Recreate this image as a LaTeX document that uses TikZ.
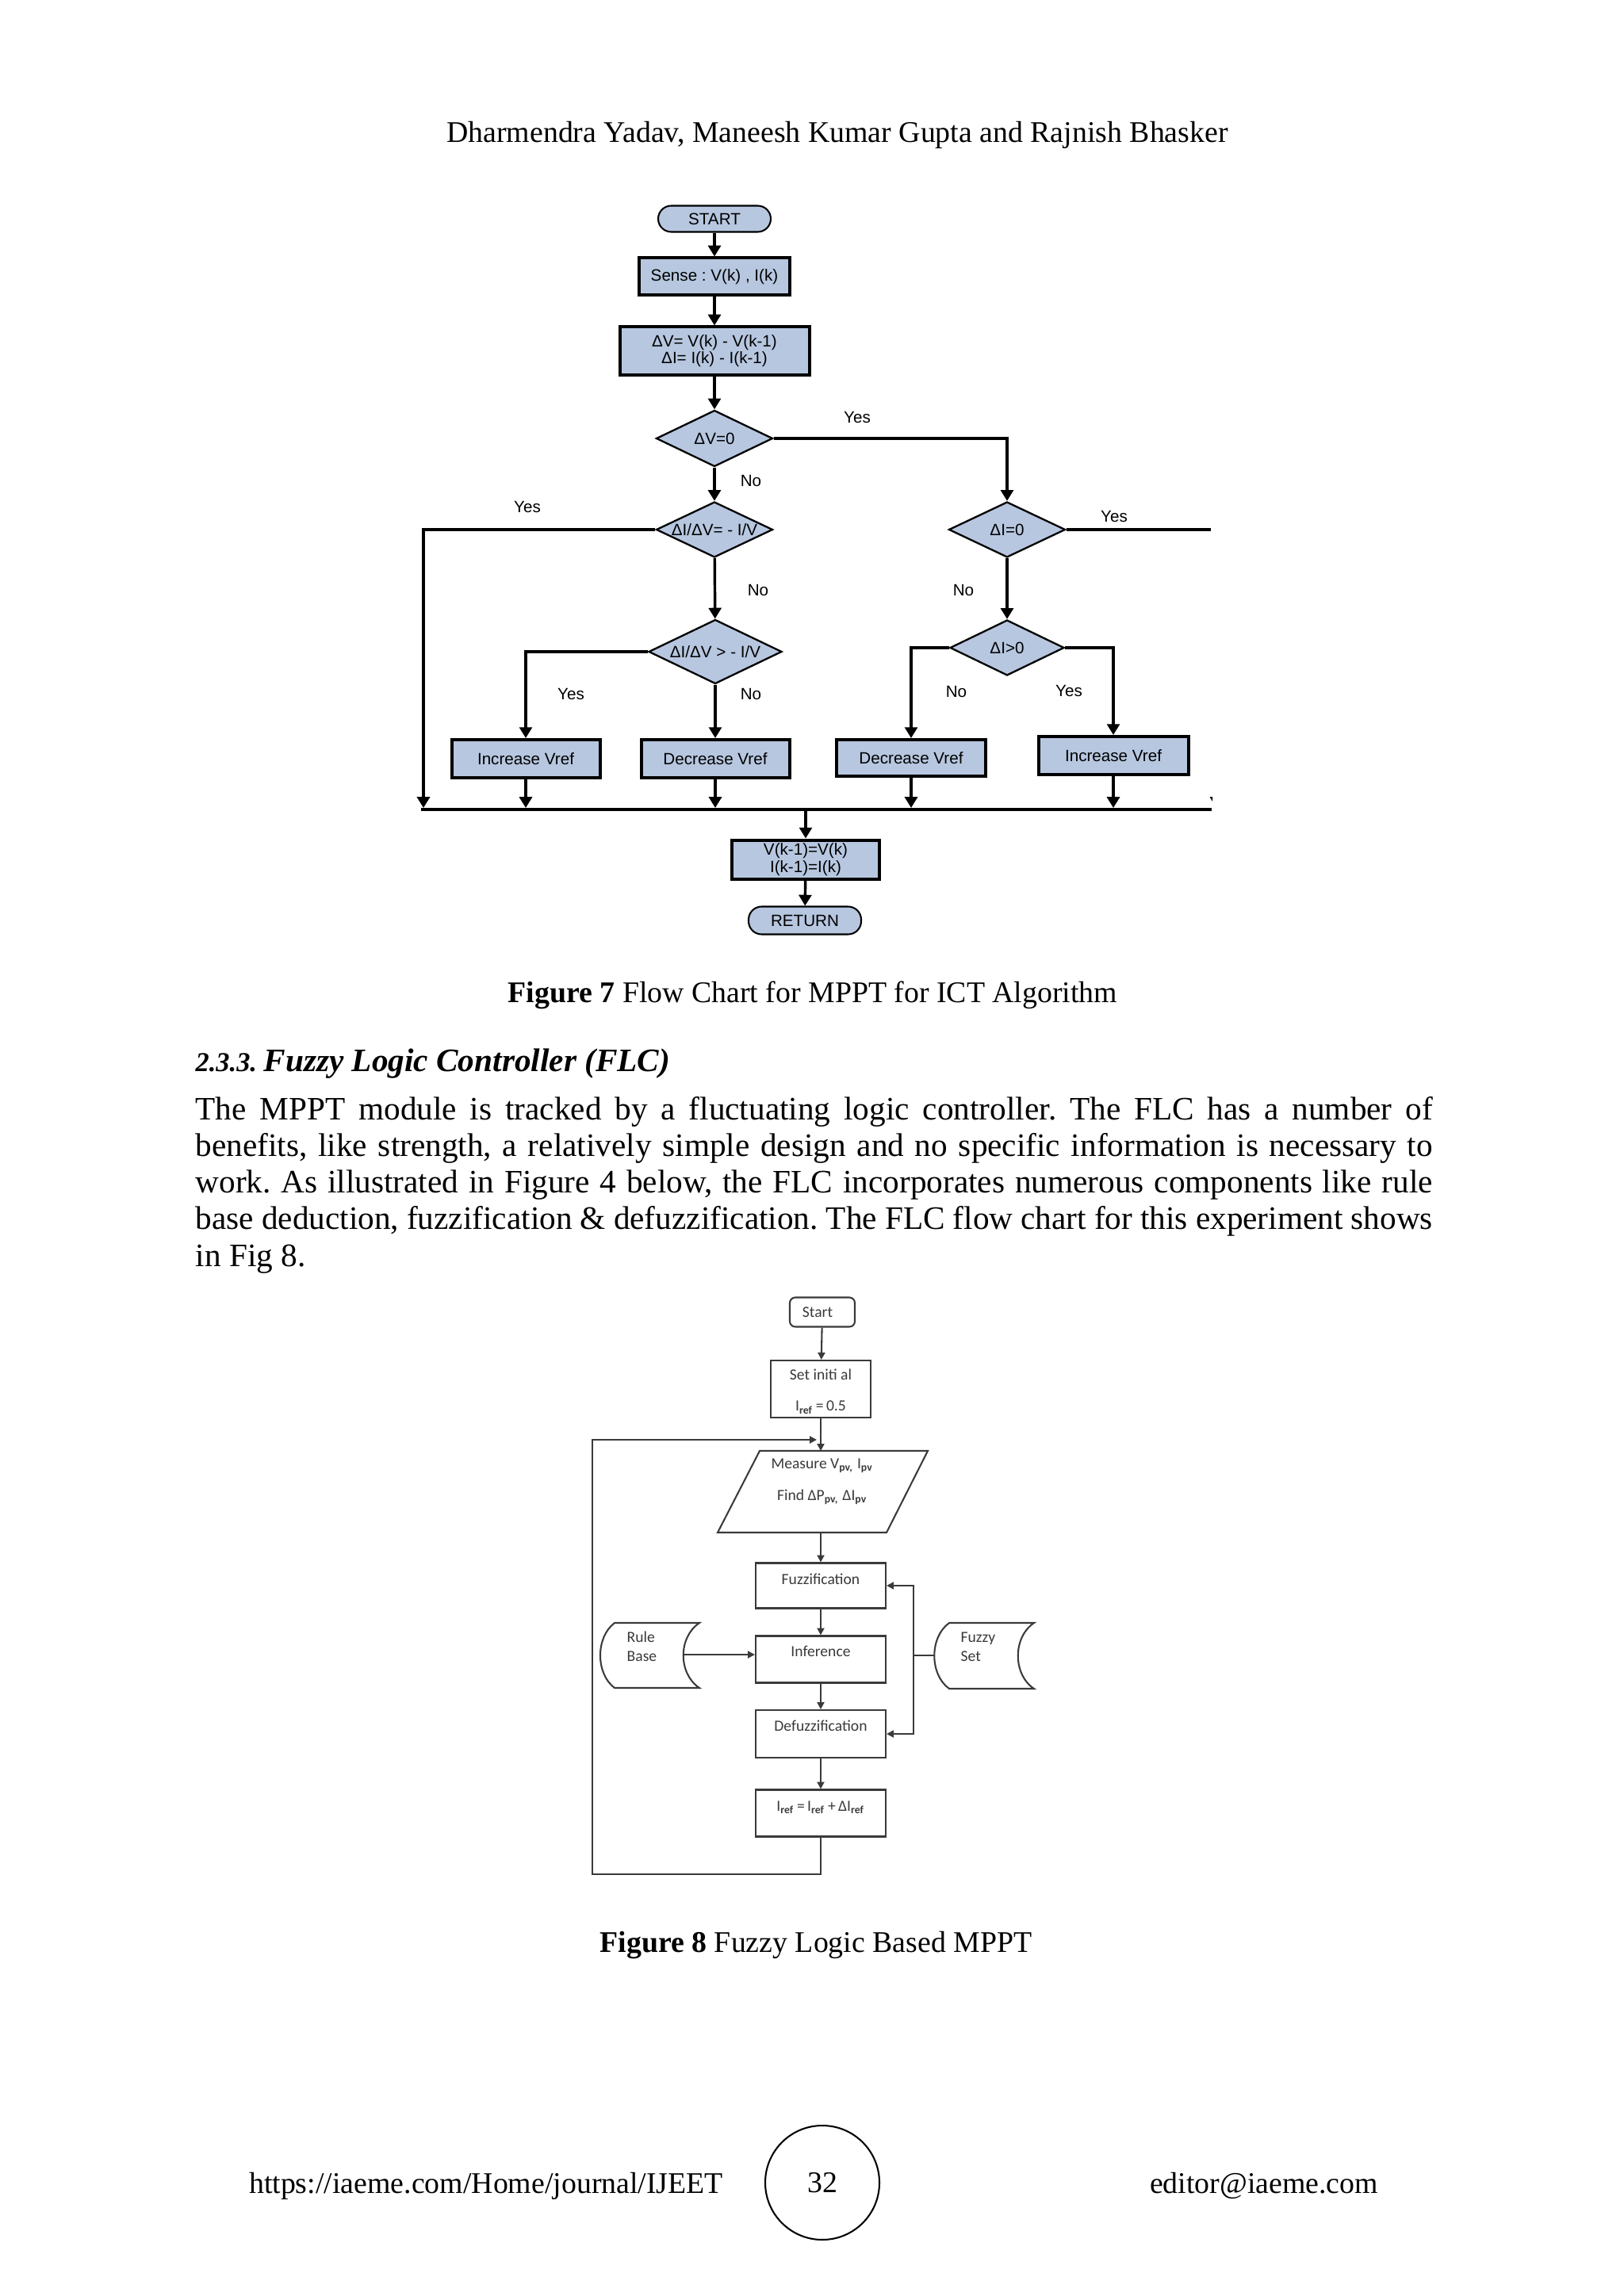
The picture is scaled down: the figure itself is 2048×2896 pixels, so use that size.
\documentclass[tikz,border=0pt]{standalone}
\usepackage{fontspec}
\setmainfont{Liberation Serif}
\newfontfamily\arialf{Liberation Sans}
\newfontfamily\calf{Carlito}
\usetikzlibrary{arrows.meta,shapes.geometric}
\definecolor{boxblue}{RGB}{183,199,224}
\definecolor{fgray}{RGB}{58,58,58}
\def\pxu{0.29076pt}
\frenchspacing
\begin{document}
\begin{tikzpicture}[x=0.29076pt,y=-0.29076pt,
  ptxt/.style={font=\fontsize{11}{13}\selectfont, inner sep=0},
  ftxt/.style={font=\arialf\fontsize{6}{6.2}\selectfont, inner sep=0, align=center},
  pill/.style={draw, line width=0.6pt, fill=boxblue, rounded corners=4.8pt, ftxt},
  pbox/.style={draw, line width=1.16pt, fill=boxblue, ftxt},
  dia/.style={draw, diamond, line width=0.67pt, fill=boxblue, inner sep=0},
  lab/.style={font=\arialf\fontsize{6}{7}\selectfont, inner sep=0},
  conn/.style={line width=1.0pt, -{Triangle[width=4.6pt,length=4pt]}},
  plain/.style={line width=1.0pt},
  fbox/.style={draw=fgray, line width=0.6pt, minimum width=164*\pxu, inner sep=0},
  ftext/.style={font=\calf\fontsize{5.7}{7}\selectfont, text=fgray, inner sep=0},
  fline/.style={draw=fgray, line width=0.6pt},
  fconn/.style={draw=fgray, line width=0.6pt, -{Triangle[width=2.6pt,length=2.6pt]}, fgray}
]
\useasboundingbox[fill=white] (0,0) rectangle (2048,2896);

% ---------------- page text ----------------
\node[ptxt, anchor=base] (hdr) at (1056,180) {Dharmendra Yadav, Maneesh Kumar Gupta and Rajnish Bhasker};
\node[ptxt, anchor=base] (cap7) at (1025,1264) {\textbf{Figure 7} Flow Chart for MPPT for ICT Algorithm};
\node[anchor=base west, inner sep=0] (sec) at (246,1351)
  {\bfseries\itshape\fontsize{10}{12}\selectfont 2.3.3. \fontsize{12}{14}\selectfont Fuzzy Logic Controller (FLC)};
\node[anchor=base west, inner sep=0, font=\fontsize{12}{13.45}\selectfont] (para) at (246,1412)
  {\parbox[t]{453.6pt}{\baselineskip=13.45pt
   \hbox to\hsize{The MPPT module is tracked by a fluctuating logic controller. The FLC has a number of}
   \hbox to\hsize{benefits, like strength, a relatively simple design and no specific information is necessary to}
   \hbox to\hsize{work. As illustrated in Figure 4 below, the FLC incorporates numerous components like rule}
   \hbox to\hsize{base deduction, fuzzification \& defuzzification. The FLC flow chart for this experiment shows}
   \hbox{in Fig 8.}}};
\node[ptxt, anchor=base] (cap8) at (1029,2462) {\textbf{Figure 8} Fuzzy Logic Based MPPT};
\node[ptxt, anchor=base] (url) at (613,2766) {https://iaeme.com/Home/journal/IJEET};
\node[draw, circle, line width=0.6pt, minimum size=144*\pxu, inner sep=0, font=\fontsize{11}{13}\selectfont] (pg) at (1037,2753) {32};
\node[ptxt, anchor=base] (mail) at (1594,2766) {editor@iaeme.com};

% ---------------- Figure 7 ----------------
\node[pill, minimum width=142*\pxu, minimum height=33*\pxu] (start) at (901,276) {START};
\node[pbox, minimum width=190*\pxu, minimum height=47*\pxu] (sense) at (901,349) {Sense : V(k) , I(k)};
\node[pbox, minimum width=239*\pxu, minimum height=61*\pxu] (dv) at (901,443) {ΔV= V(k) - V(k-1)\\ΔI= I(k) - I(k-1)};
\node[dia, minimum width=147*\pxu, minimum height=71*\pxu] (d1) at (901,553) {};
\node[lab] (d1t) at (d1) {ΔV=0};
\node[dia, minimum width=147*\pxu, minimum height=70*\pxu] (d2) at (901,668) {};
\node[lab] (d2t) at (d2) {ΔI/ΔV= - I/V};
\node[dia, minimum width=168*\pxu, minimum height=81*\pxu] (d3) at (902,822) {};
\node[lab] (d3t) at (d3) {ΔI/ΔV > - I/V};
\node[dia, minimum width=147*\pxu, minimum height=70*\pxu] (d4) at (1270,668) {};
\node[lab] (d4t) at (d4) {ΔI=0};
\node[dia, minimum width=144*\pxu, minimum height=70*\pxu] (d5) at (1270,817) {};
\node[lab] (d5t) at (d5) {ΔI>0};
\node[pbox, minimum width=187*\pxu, minimum height=48*\pxu] (b1) at (663,957) {Increase Vref};
\node[pbox, minimum width=187*\pxu, minimum height=48*\pxu] (b2) at (902,957) {Decrease Vref};
\node[pbox, minimum width=188*\pxu, minimum height=46*\pxu] (b3) at (1149,956) {Decrease Vref};
\node[pbox, minimum width=189*\pxu, minimum height=48*\pxu] (b4) at (1404,953) {Increase Vref};
\node[pbox, minimum width=186*\pxu, minimum height=49*\pxu] (vb) at (1016,1084) {V(k-1)=V(k)\\I(k-1)=I(k)};
\node[pill, minimum width=142*\pxu, minimum height=35*\pxu] (ret) at (1015,1161) {RETURN};

\coordinate (bus) at (0,1019);
\coordinate (busL) at (531,1021);
\coordinate (busR) at (1528,1021);
\coordinate (lftB) at (534,1019);
\coordinate (rgt) at (1527,668);
\coordinate (vtop) at (1016,1021);

\draw[conn] (start) -- (sense);
\draw[conn] (sense) -- (dv);
\draw[conn] (dv) -- (d1);
\draw[conn] (d1) -- (d2);
\draw[conn] (d1.east) -| (d4.north);
\draw[conn] (d2) -- (d3);
\draw[conn] (d2.west) -| (lftB);
\draw[conn] (d3.west) -| (b1.north);
\draw[conn] (d3) -- (b2);
\draw[conn] (d4) -- (d5);
\draw[plain] (d4.east) -- (rgt);
\draw[conn] (d5.west) -| (b3.north);
\draw[conn] (d5.east) -| (b4.north);
\draw[conn] (b1) -- (b1 |- bus);
\draw[conn] (b2) -- (b2 |- bus);
\draw[conn] (b3) -- (b3 |- bus);
\draw[conn] (b4) -- (b4 |- bus);
\draw[line width=1.45pt] (busL) -- (busR);
\draw[conn] (vtop) -- (vb);
\draw[conn] (vb) -- (ret);
\begin{scope}
  \clip (1500,985) rectangle (1529,1030);
  \draw[conn] (1534,990) -- (1534,1019);
\end{scope}

\node[lab] (l1) at (947,607) {No};
\node[lab] (l2) at (1081,527) {Yes};
\node[lab] (l3) at (665,640) {Yes};
\node[lab] (l4) at (956,745) {No};
\node[lab] (l5) at (720,875) {Yes};
\node[lab] (l6) at (947,875) {No};
\node[lab] (l7) at (1215,745) {No};
\node[lab] (l8) at (1405,652) {Yes};
\node[lab] (l9) at (1206,873) {No};
\node[lab] (l10) at (1348,871) {Yes};

% ---------------- Figure 8 ----------------
\node[fbox, rounded corners=2pt, minimum width=82*\pxu, minimum height=37*\pxu] (fs) at (1037,1655) {};
\node[ftext] (fst) at (1031,1655) {Start};
\node[fbox, minimum width=126*\pxu, minimum height=72*\pxu] (fi) at (1035,1752) {};
\node[ftext] (fit1) at (1035,1734) {Set initi al};
\node[ftext] (fit2) at (1035,1775) {I\textsubscript{\textbf{ref}}\,=\,0.5};

\coordinate (pa) at (958,1830);
\coordinate (pb) at (1170,1830);
\coordinate (pc) at (1118,1933);
\coordinate (pd) at (905,1933);
\draw[fline] (pa) -- (pb) -- (pc) -- (pd) -- cycle;
\node[ftext] (pt1) at (1037,1849) {Measure V\textsubscript{\textbf{pv,}} I\textsubscript{\textbf{pv}}};
\node[ftext] (pt2) at (1037,1888) {Find ΔP\textsubscript{\textbf{pv,}} ΔI\textsubscript{\textbf{pv}}};
\coordinate (ptop) at (1035,1830);
\coordinate (pbot) at (1035,1933);

\node[fbox, minimum height=57*\pxu] (fz) at (1035,2000) {};
\node[ftext] (fzt) at (1035,1992) {Fuzzification};
\node[fbox, minimum height=59*\pxu] (inf) at (1035,2093) {};
\node[ftext] (inft) at (1035,2083) {Inference};
\node[fbox, minimum height=60*\pxu] (df) at (1035,2187) {};
\node[ftext] (dft) at (1035,2177) {Defuzzification};
\node[fbox, minimum height=59*\pxu] (ir) at (1035,2287) {};
\node[ftext] (irt) at (1035,2280) {I\textsubscript{\textbf{ref}}\,=\,I\textsubscript{\textbf{ref}}\,+\,ΔI\textsubscript{\textbf{ref}}};

% Rule Base store
\draw[fline] (775,2047) -- (882,2047) .. controls (855,2065) and (855,2111) .. (882,2129)
  -- (775,2129) .. controls (751,2111) and (751,2065) .. (775,2047) -- cycle;
\node[ftext, align=left, anchor=west] (rb) at (790,2077) {Rule\\Base};
% Fuzzy Set store
\draw[fline] (1197,2047) -- (1304,2047) .. controls (1277,2065) and (1277,2112) .. (1304,2130)
  -- (1197,2130) .. controls (1172,2112) and (1172,2065) .. (1197,2047) -- cycle;
\node[ftext, align=left, anchor=west] (fset) at (1211,2077) {Fuzzy\\Set};

\coordinate (rbR) at (862,2087);
\coordinate (fsL) at (1178,2088);
\coordinate (fsb) at (1152,2088);
\coordinate (lpc) at (747,2364);
\coordinate (lpe) at (1030,1816);

\draw[fconn] (fs) -- (fi);
\draw[fconn] (fi) -- (ptop);
\draw[fconn] (pbot) -- (fz);
\draw[fconn] (fz) -- (inf);
\draw[fconn] (inf) -- (df);
\draw[fconn] (df) -- (ir);
\draw[fconn] (ir.south) |- (lpc) |- (lpe);
\draw[fconn] (rbR) -- (inf.west |- rbR);
\draw[fline] (fsL) -- (fsb);
\draw[fconn] (fsb) |- (fz.east);
\draw[fconn] (fsb) |- (df.east);
\end{tikzpicture}
\end{document}
